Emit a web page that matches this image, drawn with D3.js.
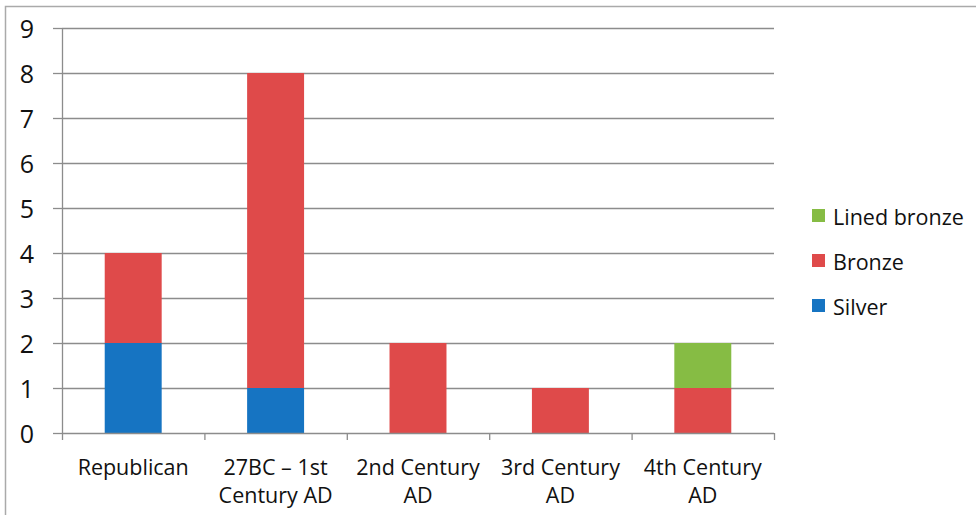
<!DOCTYPE html>
<html><head><meta charset="utf-8">
<script src="https://cdn.jsdelivr.net/npm/d3@7"></script>
<style>body{margin:0;background:#fff}svg{display:block}</style>
</head><body>
<script>
const categories = [["Republican"], ["27BC – 1st", "Century AD"], ["2nd Century", "AD"], ["3rd Century", "AD"], ["4th Century", "AD"]];
const seriesNames = ["Silver", "Bronze", "Lined bronze"];
const silver = [2, 1, 0, 0, 0];
const bronze = [2, 7, 2, 1, 1];
const linedBronze = [0, 0, 0, 0, 1];
const yTicks = [0, 1, 2, 3, 4, 5, 6, 7, 8, 9];
const colors = ["#1674c2", "#df4a4a", "#86bc44"];

(function () {
const W = 976, H = 515;
const svg = d3.select("body").append("svg").attr("width", W).attr("height", H);
const font = "'Open Sans', sans-serif";

// border
svg.append("path").attr("d", `M5.5,${H} V6.5 H${W}`).attr("fill", "none").attr("stroke", "#aaa").attr("stroke-width", 1.5);

const pL = 62, pR = 774, pT = 28, pB = 433;
const x = d3.scaleBand().domain(d3.range(categories.length)).range([pL, pR]).paddingInner(0.6).paddingOuter(0.3);
const y = d3.scaleLinear().domain([0, 9]).range([pB, pT]);

// gridlines
svg.append("g").selectAll("line").data(yTicks.filter(d => d > 0)).join("line")
  .attr("x1", pL).attr("x2", pR).attr("y1", d => y(d) + 0.5).attr("y2", d => y(d) + 0.5)
  .attr("stroke", "#8c8c8c").attr("stroke-width", 1.3);

const data = categories.map((c, i) => ({i, Silver: silver[i], Bronze: bronze[i], "Lined bronze": linedBronze[i]}));
const stacked = d3.stack().keys(seriesNames)(data);
svg.append("g").selectAll("g").data(stacked).join("g").attr("fill", (d, k) => colors[k])
  .selectAll("rect").data(d => d).join("rect")
  .attr("x", d => x(d.data.i)).attr("width", x.bandwidth())
  .attr("y", d => y(d[1])).attr("height", d => y(d[0]) - y(d[1]));

// y axis
const yAxis = d3.axisLeft(y).tickValues(yTicks).tickSize(9).tickPadding(19).tickFormat(d3.format("d"));
const gy = svg.append("g").attr("transform", `translate(${pL},0)`).call(yAxis);
gy.select(".domain").attr("stroke", "#8c8c8c").attr("stroke-width", 1.3).attr("d", `M0.5,${pT}V${pB}`);
gy.selectAll(".tick line").attr("stroke", "#8c8c8c").attr("stroke-width", 1.3);
gy.selectAll("text").attr("font-family", font).attr("font-size", 25).attr("fill", "#111").attr("dy", "0.36em");

// x axis
const xb = d3.scaleLinear().domain([0, categories.length]).range([pL, pR]);
const gx = svg.append("g").attr("transform", `translate(0,${pB})`)
  .call(d3.axisBottom(xb).tickValues(d3.range(categories.length + 1)).tickSize(7).tickFormat(""));
gx.select(".domain").attr("stroke", "#8c8c8c").attr("stroke-width", 1.3).attr("d", `M${pL},0.5H${pR}`);
gx.selectAll(".tick line").attr("stroke", "#8c8c8c").attr("stroke-width", 1.3);

const lab = svg.append("g").selectAll("text").data(categories).join("text")
  .attr("x", (d, i) => x(i) + x.bandwidth() / 2).attr("y", 475)
  .attr("text-anchor", "middle").attr("font-family", font).attr("font-size", 21.5).attr("fill", "#111");
lab.selectAll("tspan").data(d => d).join("tspan")
  .attr("x", function() { return this.parentNode.getAttribute("x"); })
  .attr("dy", (d, j) => j === 0 ? 0 : 28).text(d => d);

// legend
const legendOrder = [2, 1, 0];
const lg = svg.append("g").selectAll("g").data(legendOrder).join("g")
  .attr("transform", (d, j) => `translate(812,${225 + j * 45})`);
lg.append("rect").attr("x", 0).attr("y", -16).attr("width", 13).attr("height", 13).attr("fill", d => colors[d]);
lg.append("text").attr("x", 21).attr("y", 0).attr("font-family", font).attr("font-size", 21.5).attr("fill", "#111")
  .text(d => seriesNames[d]);
})();
</script>
</body></html>
